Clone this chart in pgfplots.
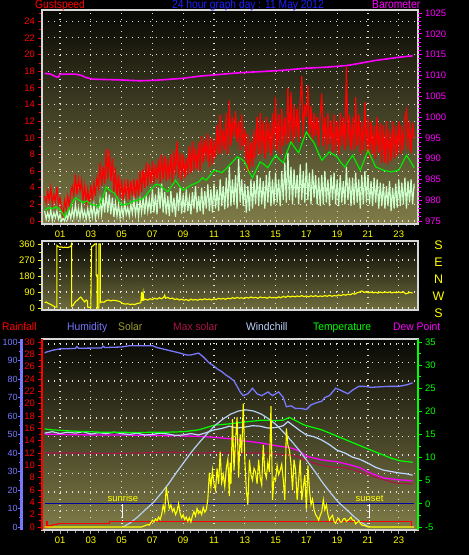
\documentclass[border=0pt]{standalone}
\usepackage{pgfplots}
\usepackage{pgfplotstable}
\pgfplotsset{compat=1.18}
\usepackage{fontspec}
\setmainfont{Liberation Sans}
\newfontfamily\narrowfont[FakeStretch=0.86]{Liberation Sans}
\newfontfamily\legfont[FakeStretch=0.94]{Liberation Sans}

\definecolor{gustred}{RGB}{255,0,0}
\definecolor{avggreen}{RGB}{0,235,0}
\definecolor{mint}{RGB}{204,255,204}
\definecolor{baro}{RGB}{255,0,255}
\definecolor{hum}{RGB}{120,120,255}
\definecolor{solarlab}{RGB}{160,160,48}
\definecolor{maxsol}{RGB}{170,20,70}
\definecolor{wchill}{RGB}{190,215,255}
\definecolor{tempg}{RGB}{0,255,0}
\definecolor{framec}{RGB}{215,215,215}
\definecolor{bgtop}{RGB}{8,8,4}
\definecolor{bgbot}{RGB}{128,124,72}
\definecolor{bgbotm}{RGB}{112,110,62}
\definecolor{navyl}{RGB}{0,0,160}
\definecolor{titleblue}{RGB}{30,30,255}
\definecolor{bell}{RGB}{180,210,240}
\definecolor{yel}{RGB}{255,255,0}

\pgfplotstableread[row sep=\\]{
t g w\\
0.0 3.0 1.2\\ 0.1 2.2 0.2\\ 0.2 3.5 1.0\\ 0.3 2.5 0.3\\ 0.4 4.0 1.3\\ 0.5 2.0 0.1\\ 0.6 3.2 1.0\\ 0.7 2.3 0.4\\ 0.8 4.1 1.2\\ 0.9 2.0 0.2\\
1.0 2.8 0.8\\ 1.1 1.5 0.0\\ 1.2 0.6 0.3\\ 1.3 2.5 0.0\\ 1.4 1.5 0.8\\ 1.5 3.0 0.2\\ 1.6 1.8 1.2\\ 1.7 3.5 0.3\\ 1.8 4.2 1.5\\ 1.9 3.0 0.4\\
2.0 5.6 2.0\\ 2.1 3.2 0.5\\ 2.2 5.0 1.5\\ 2.3 3.6 0.3\\ 2.4 4.8 1.8\\ 2.5 2.5 0.4\\ 2.6 4.2 1.2\\ 2.7 2.2 0.2\\ 2.8 3.8 1.5\\ 2.9 2.0 0.3\\
3.0 4.3 1.8\\ 3.1 2.5 0.5\\ 3.2 4.6 2.0\\ 3.3 3.0 0.3\\ 3.4 5.2 1.5\\ 3.5 4.0 0.6\\ 3.6 7.0 2.5\\ 3.7 4.2 0.8\\ 3.8 6.5 2.8\\ 3.9 4.5 1.0\\
4.0 8.7 3.5\\ 4.1 5.0 1.0\\ 4.2 8.5 3.2\\ 4.3 4.8 0.8\\ 4.4 7.5 2.8\\ 4.5 3.2 0.5\\ 4.6 6.5 2.2\\ 4.7 3.0 0.6\\ 4.8 5.5 2.0\\ 4.9 2.8 0.4\\
5.0 5.0 1.8\\ 5.1 2.5 0.5\\ 5.2 4.5 2.2\\ 5.3 3.0 0.8\\ 5.4 5.0 1.6\\ 5.5 2.6 0.6\\ 5.6 4.8 2.0\\ 5.7 3.0 0.9\\ 5.8 5.1 2.5\\ 5.9 2.8 0.8\\
6.0 5.0 2.2\\ 6.1 3.0 0.6\\ 6.2 6.0 2.5\\ 6.3 3.5 1.0\\ 6.4 6.2 2.8\\ 6.5 4.0 0.8\\ 6.6 7.0 3.0\\ 6.7 4.2 1.2\\ 6.8 6.8 2.6\\ 6.9 4.5 0.9\\
7.0 7.2 3.8\\ 7.1 4.5 1.0\\ 7.2 6.8 3.2\\ 7.3 5.0 0.8\\ 7.4 7.5 4.0\\ 7.5 4.6 1.5\\ 7.6 8.0 4.5\\ 7.7 5.0 1.0\\ 7.8 7.8 3.5\\ 7.9 4.8 0.8\\
8.0 7.5 3.0\\ 8.1 5.0 0.6\\ 8.2 8.0 3.6\\ 8.3 4.6 1.0\\ 8.4 8.5 2.8\\ 8.5 5.5 0.5\\ 8.6 9.6 3.4\\ 8.7 5.2 1.2\\ 8.8 8.2 4.0\\ 8.9 4.8 0.9\\
9.0 8.0 3.2\\ 9.1 5.2 1.0\\ 9.2 7.6 3.8\\ 9.3 5.5 1.2\\ 9.4 9.0 2.8\\ 9.5 5.8 0.8\\ 9.6 9.6 3.5\\ 9.7 6.0 1.5\\ 9.8 8.8 4.2\\ 9.9 6.2 1.0\\
10.0 9.5 3.0\\ 10.1 6.0 1.2\\ 10.2 10.2 4.0\\ 10.3 7.0 0.8\\ 10.4 9.8 3.6\\ 10.5 7.2 1.5\\ 10.6 10.5 4.4\\ 10.7 6.5 1.2\\ 10.8 10.0 3.8\\ 10.9 6.8 1.0\\
11.0 9.8 4.5\\ 11.1 7.5 1.5\\ 11.2 11.5 3.8\\ 11.3 8.0 1.2\\ 11.4 12.8 5.0\\ 11.5 8.2 1.8\\ 11.6 11.0 4.2\\ 11.7 8.5 1.4\\ 11.8 13.0 5.2\\ 11.9 8.0 1.6\\
12.0 14.5 6.5\\ 12.1 9.0 1.8\\ 12.2 12.5 5.0\\ 12.3 10.0 2.0\\ 12.4 13.2 5.5\\ 12.5 9.5 1.5\\ 12.6 12.0 7.5\\ 12.7 8.5 2.2\\ 12.8 12.8 5.0\\ 12.9 9.0 1.8\\
13.0 11.0 4.5\\ 13.1 6.0 1.0\\ 13.2 10.5 4.2\\ 13.3 5.8 1.2\\ 13.4 9.5 5.0\\ 13.5 6.5 1.5\\ 13.6 11.0 4.8\\ 13.7 7.5 2.0\\ 13.8 12.5 5.5\\ 13.9 8.0 1.8\\
14.0 13.0 5.2\\ 14.1 8.0 2.0\\ 14.2 12.0 4.8\\ 14.3 7.5 1.5\\ 14.4 12.5 5.5\\ 14.5 8.2 2.2\\ 14.6 11.8 6.0\\ 14.7 7.8 1.8\\ 14.8 13.0 5.0\\ 14.9 8.5 2.0\\
15.0 14.9 5.8\\ 15.1 8.5 2.2\\ 15.2 12.8 5.0\\ 15.3 8.0 1.8\\ 15.4 13.5 6.0\\ 15.5 9.0 2.5\\ 15.6 12.5 7.0\\ 15.7 9.2 2.2\\ 15.8 16.0 8.2\\ 15.9 9.5 2.5\\
16.0 15.5 6.5\\ 16.1 9.0 2.0\\ 16.2 14.0 6.2\\ 16.3 10.0 2.8\\ 16.4 13.5 5.5\\ 16.5 9.5 2.0\\ 16.6 14.5 6.8\\ 16.7 17.4 2.5\\ 16.8 10.0 6.0\\ 16.9 14.0 2.2\\
17.0 12.5 7.0\\ 17.1 16.3 2.5\\ 17.2 10.0 5.8\\ 17.3 13.8 2.0\\ 17.4 9.5 6.2\\ 17.5 13.0 2.8\\ 17.6 10.2 5.5\\ 17.7 12.5 2.0\\ 17.8 9.0 5.2\\ 17.9 12.8 1.8\\
18.0 15.3 5.5\\ 18.1 9.0 2.0\\ 18.2 12.5 6.0\\ 18.3 8.5 2.2\\ 18.4 13.0 5.0\\ 18.5 9.2 1.8\\ 18.6 12.0 5.5\\ 18.7 8.2 2.5\\ 18.8 12.8 5.8\\ 18.9 8.5 2.0\\
19.0 12.0 5.0\\ 19.1 8.0 1.8\\ 19.2 13.0 5.5\\ 19.3 9.0 2.2\\ 19.4 12.5 4.8\\ 19.5 8.5 2.0\\ 19.6 18.5 6.5\\ 19.7 9.0 2.5\\ 19.8 12.8 5.2\\ 19.9 8.5 1.8\\
20.0 12.5 5.2\\ 20.1 8.5 2.0\\ 20.2 14.9 5.8\\ 20.3 9.0 2.2\\ 20.4 12.8 5.0\\ 20.5 8.0 1.5\\ 20.6 12.0 5.5\\ 20.7 8.5 2.0\\ 20.8 14.3 6.0\\ 20.9 8.0 2.2\\
21.0 12.5 5.5\\ 21.1 7.5 2.0\\ 21.2 12.0 4.8\\ 21.3 8.0 1.8\\ 21.4 11.5 5.2\\ 21.5 7.5 2.2\\ 21.6 12.5 5.0\\ 21.7 8.2 1.5\\ 21.8 11.8 4.6\\ 21.9 7.0 1.8\\
22.0 11.5 4.5\\ 22.1 7.0 1.5\\ 22.2 12.0 4.2\\ 22.3 6.8 1.8\\ 22.4 11.0 4.8\\ 22.5 7.2 1.2\\ 22.6 12.0 4.0\\ 22.7 7.5 1.5\\ 22.8 11.5 4.5\\ 22.9 7.8 1.6\\
23.0 12.0 5.0\\ 23.1 8.0 1.8\\ 23.2 11.5 4.6\\ 23.3 8.5 2.0\\ 23.4 12.5 5.2\\ 23.5 13.3 1.5\\ 23.6 8.5 4.8\\ 23.7 12.0 2.2\\ 23.8 8.2 5.0\\ 23.9 11.8 2.0\\
24.0 10.0 4.5\\
}\gustwind

\pgfplotsset{
  panel/.style={scale only axis, width=376bp, anchor=south west,
    xmin=-0.17, xmax=24.25, clip=true},
  tickfont/.style={font=\fontsize{9.5}{10}\selectfont},
  dotgrid/.style={draw=white!88!black, line width=1.1bp, dash pattern=on 1.1bp off 4.9bp},
}

\begin{document}
\begin{tikzpicture}
\path[use as bounding box, fill=black] (0,0) rectangle (469bp,555bp);

% ================= TOP PANEL: gust / wind =================
\begin{axis}[panel, at={(42bp,331bp)}, height=214bp,
  ymin=-0.36, ymax=25.36,
  axis background/.style={shade, top color=bgtop, bottom color=bgbot},
  axis line style={draw=framec, line width=1.5bp},
  xtick={1,3,5,7,9,11,13,15,17,19,21,23},
  xticklabels={01,03,05,07,09,11,13,15,17,19,21,23},
  minor xtick={0,0.5,...,24},
  ytick={0,2,4,6,8,10,12,14,16,18,20,22,24},
  yticklabels={0,2,4,6,8,10,12,14,16,18,20,22,24},
  minor ytick={1,3,5,7,9,11,13,15,17,19,21,23,25},
  xtick pos=bottom, ytick pos=left, tick align=outside,
  major tick length=3.5bp, minor tick length=2.5bp,
  xtick style={draw=gray!70!white, line width=0.8bp},
  ytick style={draw=red, line width=0.8bp},
  xticklabel style={text=yel, tickfont},
  yticklabel style={text=gustred, tickfont},
  xmajorgrids, ymajorgrids, major grid style={dotgrid},
]
\addplot[gustred, line width=1.2bp] table[x=t, y=g] {\gustwind};
\addplot[mint, line width=1.2bp] table[x=t, y=w] {\gustwind};
\addplot[avggreen, line width=1.2bp] coordinates {
(0,1.3)(0.25,1.6)(0.5,1.5)(0.75,1.7)(1.0,1.4)(1.15,1.0)(1.3,0.5)(1.45,1.0)(1.6,1.5)(1.8,2.2)(2.0,2.8)(2.25,2.5)(2.5,2.2)(2.75,2.4)(3.0,2.0)(3.25,1.9)(3.5,1.7)(3.65,2.4)(3.8,3.0)(4.0,4.1)(4.15,3.8)(4.3,3.6)(4.5,3.4)(4.65,3.0)(4.8,2.5)(5.0,1.9)(5.25,2.0)(5.5,2.1)(5.75,2.4)(6.0,2.5)(6.25,2.6)(6.5,2.9)(6.75,3.5)(7.0,4.0)(7.25,4.4)(7.5,4.3)(7.65,4.0)(7.8,3.8)(8.0,3.5)(8.25,4.2)(8.5,4.9)(8.75,4.2)(9.0,3.7)(9.25,4.0)(9.5,4.3)(9.75,4.5)(10.0,4.7)(10.25,5.2)(10.5,4.9)(10.75,5.5)(11.0,6.1)(11.25,6.0)(11.5,5.8)(11.75,6.2)(12.0,6.7)(12.25,7.2)(12.5,7.7)(12.75,7.5)(13.0,7.1)(13.25,6.0)(13.5,5.2)(13.75,6.2)(14.0,7.1)(14.25,6.8)(14.5,6.4)(14.75,7.2)(15.0,7.9)(15.25,7.4)(15.5,7.0)(15.75,8.3)(16.0,9.5)(16.25,8.8)(16.5,8.2)(16.75,9.5)(17.0,10.7)(17.25,10.0)(17.5,9.4)(17.75,8.3)(18.0,7.3)(18.25,7.8)(18.5,8.3)(18.75,8.0)(19.0,7.7)(19.25,7.0)(19.5,6.5)(19.75,7.2)(20.0,7.9)(20.25,7.0)(20.5,6.1)(20.75,7.3)(21.0,8.5)(21.25,7.5)(21.5,6.5)(21.75,6.3)(22.0,6.1)(22.25,6.0)(22.5,5.9)(22.75,6.0)(23.0,6.1)(23.25,7.0)(23.5,7.9)(23.75,7.2)(24.0,6.4)};
\end{axis}

% barometer scale
\begin{axis}[panel, at={(42bp,331bp)}, height=214bp,
  ymin=974.28, ymax=1025.72,
  axis y line*=right, axis x line=none, y axis line style={draw=none},
  ytick={975,980,985,990,995,1000,1005,1010,1015,1020,1025},
  yticklabels={975,980,985,990,995,1000,1005,1010,1015,1020,1025},
  minor y tick num=4, tick align=outside,
  major tick length=3.5bp, minor tick length=2.5bp,
  ytick style={draw=baro, line width=0.8bp},
  yticklabel style={text=baro, tickfont},
]
\addplot[baro, line width=1.6bp] coordinates {
(0,1010.5)(0.4,1010.3)(0.6,1009.9)(0.8,1009.6)(0.9,1009.6)(1.0,1010.3)(2.0,1010.3)(2.4,1010.0)(2.6,1009.6)(3.1,1009.1)(4.0,1009.0)(5.0,1008.9)(6.2,1008.7)(7.0,1008.8)(7.9,1009.0)(9.0,1009.3)(10.0,1009.8)(11.0,1010.1)(12.2,1010.5)(13.0,1010.7)(14.0,1010.9)(15.4,1011.2)(16.9,1011.7)(18.4,1012.0)(19.7,1012.4)(20.6,1013.0)(21.5,1013.6)(22.3,1014.0)(23.1,1014.4)(23.9,1014.7)};
\end{axis}

% ================= MIDDLE PANEL: wind direction =================
\begin{axis}[panel, at={(42bp,245bp)}, height=69bp,
  ymin=-11, ymax=377,
  axis background/.style={shade, top color=bgtop, bottom color=bgbotm},
  axis line style={draw=framec, line width=1.5bp},
  xtick={1,3,5,7,9,11,13,15,17,19,21,23}, xticklabels={},
  xtick style={draw=none},
  ytick={0,90,180,270,360}, yticklabels={0,90,180,270,360},
  minor ytick={45,135,225,315},
  ytick pos=left, tick align=outside,
  major tick length=3.5bp, minor tick length=2.5bp,
  ytick style={draw=yel, line width=0.8bp},
  yticklabel style={text=yel, tickfont},
  xmajorgrids, ymajorgrids, major grid style={dotgrid},
]
\addplot[yel, line width=1.1bp] coordinates {
(0.0,30)(0.1,34)(0.2,28)(0.3,24)(0.4,20)(0.5,15)(0.6,10)(0.7,5)(0.8,5)(0.8,352)(0.9,345)(1.0,342)(1.1,344)(1.2,340)(1.3,342)(1.4,341)(1.5,340)(1.6,343)(1.7,346)(1.75,360)(1.75,10)(1.85,15)(1.95,30)(2.05,40)(2.15,45)(2.25,55)(2.35,62)(2.45,50)(2.55,40)(2.6,34)(2.7,45)(2.78,40)(2.8,5)(3.0,3)(3.05,345)(3.15,350)(3.25,360)(3.35,360)(3.35,186)(3.42,186)(3.42,0)(3.52,0)(3.52,360)(3.62,360)(3.62,30)(3.75,35)(3.85,32)(4.0,42)(4.15,45)(4.3,40)(4.45,44)(4.6,42)(4.75,40)(4.9,36)(5.0,30)(5.1,25)(5.25,22)(5.4,24)(5.55,20)(5.7,22)(5.85,20)(6.0,25)(6.15,28)(6.25,30)(6.3,90)(6.35,40)(6.4,85)(6.45,45)(6.55,50)(6.7,45)(6.85,52)(7.0,48)(7.15,55)(7.3,50)(7.45,58)(7.6,52)(7.75,62)(7.8,72)(7.85,55)(8.0,60)(8.15,52)(8.3,56)(8.45,48)(8.6,52)(8.75,45)(8.9,50)(9.05,44)(9.2,48)(9.35,42)(9.5,50)(9.65,45)(9.8,48)(9.95,44)(10.1,50)(10.25,46)(10.4,52)(10.55,47)(10.7,51)(10.85,45)(11.0,52)(11.15,48)(11.3,55)(11.45,50)(11.6,54)(11.75,49)(11.9,56)(12.05,52)(12.2,58)(12.35,54)(12.5,60)(12.65,55)(12.8,58)(12.95,53)(13.1,60)(13.25,56)(13.4,62)(13.55,57)(13.7,60)(13.85,55)(14.0,62)(14.15,58)(14.3,60)(14.45,55)(14.6,62)(14.75,57)(14.9,60)(15.05,56)(15.2,63)(15.35,58)(15.5,66)(15.65,60)(15.8,68)(15.95,62)(16.1,67)(16.25,63)(16.4,68)(16.55,64)(16.7,70)(16.85,64)(17.0,68)(17.15,63)(17.3,69)(17.45,65)(17.6,70)(17.75,64)(17.9,68)(18.05,65)(18.2,70)(18.35,66)(18.5,72)(18.65,66)(18.8,70)(18.95,68)(19.1,74)(19.25,70)(19.4,76)(19.55,72)(19.7,78)(19.85,74)(20.0,82)(20.15,78)(20.3,86)(20.45,90)(20.6,96)(20.75,88)(20.9,92)(21.05,86)(21.2,90)(21.35,85)(21.5,89)(21.65,84)(21.8,90)(21.95,86)(22.1,91)(22.25,87)(22.4,90)(22.55,85)(22.7,89)(22.85,86)(23.0,90)(23.15,87)(23.3,91)(23.45,80)(23.6,84)(23.75,88)(23.9,84)};
\end{axis}

% ================= BOTTOM PANEL =================
% humidity (frame, background, grid)
\begin{axis}[panel, at={(42bp,25bp)}, height=191bp,
  ymin=-1.62, ymax=101.62,
  axis background/.style={shade, top color=bgtop, bottom color=bgbot},
  axis line style={draw=framec, line width=1.5bp},
  xtick={1,3,5,7,9,11,13,15,17,19,21,23},
  xticklabels={01,03,05,07,09,11,13,15,17,19,21,23},
  minor xtick={0,0.5,...,24},
  ytick={8.9,18.9,28.9,38.9,48.9,58.9,68.9,78.9,88.9,98.9}, yticklabels={},
  ytick style={draw=none},
  xtick pos=bottom, tick align=outside,
  major tick length=3.5bp, minor tick length=2.5bp,
  xtick style={draw=gray!70!white, line width=0.8bp},
  xticklabel style={text=yel, tickfont},
  xmajorgrids, ymajorgrids, major grid style={dotgrid},
]
\addplot[hum, line width=1.3bp] coordinates {
(0,94)(0.1,94.5)(0.5,95.5)(1.0,96.3)(2.0,96.5)(2.1,97.5)(2.2,96.6)(3.7,96.8)(3.8,97.8)(3.9,97.0)(5.0,97.3)(5.5,98.0)(7.0,98.0)(7.3,97.0)(7.8,96.0)(8.3,95.0)(8.8,94.0)(9.2,93.0)(9.5,93.0)(10.0,94.0)(10.3,92.0)(10.7,88.6)(11.0,87.0)(11.2,85.5)(11.5,84)(11.8,82)(12.0,81)(12.3,79)(12.5,76)(12.7,73)(12.9,71)(13.2,72)(13.5,75)(13.8,72)(14.1,71)(14.5,73)(14.8,71)(15.2,73)(15.5,70)(15.7,65)(16.0,65.5)(16.3,64)(16.7,64)(17.0,63.5)(17.3,66)(17.6,67)(18.0,68)(18.2,70)(18.5,71)(18.9,75)(19.2,74)(19.7,72)(20.0,74)(20.4,76)(20.8,76)(21.2,75.5)(22.3,76)(23.0,76)(23.6,77)(23.9,78)};
\end{axis}

% temperature scale
\begin{axis}[panel, at={(42bp,25bp)}, height=191bp,
  ymin=-5.65, ymax=35.65,
  axis y line*=right, axis x line=none,
  y axis line style={draw=tempg, line width=1.2bp},
  ytick={-5,0,5,10,15,20,25,30,35}, yticklabels={-5,0,5,10,15,20,25,30,35},
  minor y tick num=1, tick align=outside,
  major tick length=3.5bp, minor tick length=2.5bp,
  ytick style={draw=tempg, line width=0.8bp},
  yticklabel style={text=tempg, tickfont},
]
\addplot[navyl, line width=1.2bp] coordinates {(0,0)(24,0)};
\addplot[maxsol, line width=1.1bp] coordinates {
(0,11.0)(2,11.0)(4,10.9)(6,11.0)(8,11.2)(9,11.1)(10,11.0)(11,11.1)(12,11.0)(13,11.0)(14.1,11.0)(15,10.8)(15.8,10.6)(16.4,10.3)(16.9,9.5)(17.7,8.6)(18.5,8.0)(19.6,7.8)(20.7,6.7)(21.8,5.4)(22.8,4.5)(23.9,4.3)};
\addplot[baro, line width=1.3bp] coordinates {
(0,15.1)(1,15.0)(3,14.9)(5,14.9)(7,14.8)(9,14.7)(10,14.6)(11,14.4)(12,14.1)(13,13.6)(14,13.2)(15,12.6)(16,12.1)(16.5,11.5)(17,10.3)(18,9.5)(19,9.1)(20,8.3)(20.5,7.8)(21,6.9)(22,5.6)(23,5.2)(23.9,5.0)};
\addplot[wchill, line width=1.2bp] coordinates {
(0,15.3)(0.5,15.6)(1,15.2)(1.5,15.5)(2,15.3)(2.5,15.6)(3,15.1)(3.5,15.4)(4,15.2)(4.5,15.5)(5,15.2)(5.5,15.0)(6,15.3)(6.5,14.9)(7,15.0)(7.5,15.3)(8,15.1)(8.5,14.8)(9,14.9)(9.5,15.2)(10,14.9)(10.5,15.4)(11,16.0)(11.5,16.3)(12,16.8)(12.5,16.4)(13,16.6)(13.5,16.9)(14,16.8)(14.5,16.4)(15,16.5)(15.5,16.9)(15.8,17.8)(16.2,16.8)(16.6,15.8)(17,14.9)(17.5,14.5)(18,13.8)(18.5,12.8)(19,11.6)(19.5,11.0)(20,10.1)(20.5,9.6)(21,8.8)(21.5,7.9)(22,7.3)(22.5,7.0)(23,6.7)(23.5,6.5)(23.9,6.2)};
\addplot[tempg, line width=1.2bp] coordinates {
(0,16.2)(0.5,16.0)(1,15.9)(2,15.7)(3,15.6)(3.6,15.5)(5,15.5)(6,15.4)(7,15.5)(8,15.5)(9,15.6)(10,16.0)(10.5,16.5)(11,17.0)(12,17.3)(12.5,17.5)(13,17.7)(14.1,18.1)(15,18.0)(15.5,18.1)(15.9,18.7)(16.3,18.0)(16.9,17.0)(18,16.0)(19.1,14.5)(20.4,12.7)(21.5,11.2)(22.5,9.9)(23.1,9.3)(23.9,9.0)};
\addplot[white, line width=1bp] coordinates {(5.09,0)(5.09,-2.8)};
\addplot[white, line width=1bp, dotted] coordinates {(5.09,-2.8)(5.09,-5)};
\addplot[white, line width=1bp] coordinates {(21.07,0)(21.07,-2.8)};
\addplot[white, line width=1bp, dotted] coordinates {(21.07,-2.8)(21.07,-5)};
\node[text=yel, inner sep=0, font=\fontsize{9.5}{10}\selectfont] at (axis cs:5.09,1.2) {sunrise};
\node[text=yel, inner sep=0, font=\fontsize{9.5}{10}\selectfont] at (axis cs:21.1,1.2) {sunset};
\end{axis}

% rainfall scale, solar
\begin{axis}[panel, at={(42bp,25bp)}, height=191bp,
  ymin=-0.49, ymax=30.49,
  axis y line*=left, axis x line=none,
  y axis line style={draw=red, line width=1.2bp},
  ytick={0,2,4,6,8,10,12,14,16,18,20,22,24,26,28,30},
  yticklabels={0,2,4,6,8,10,12,14,16,18,20,22,24,26,28,30},
  minor ytick={1,3,5,7,9,11,13,15,17,19,21,23,25,27,29},
  tick align=outside,
  major tick length=3.5bp, minor tick length=2.5bp,
  ytick style={draw=red, line width=0.8bp},
  yticklabel style={text=gustred, tickfont},
]
\addplot[bell, line width=1.2bp] coordinates {
(5.09,0)(5.58,0.7)(6.08,1.7)(6.58,2.9)(7.08,4.0)(7.58,5.5)(8.08,7.1)(8.58,8.9)(9.08,10.6)(9.58,12.3)(10.08,13.8)(10.58,15.2)(11.08,16.5)(11.58,17.5)(12.08,18.3)(12.58,18.8)(13.08,19.0)(13.58,18.8)(14.08,18.3)(14.58,17.5)(15.08,16.5)(15.58,15.2)(16.08,13.8)(16.58,12.3)(17.08,10.6)(17.58,8.9)(18.08,7.1)(18.58,5.5)(19.08,4.0)(19.58,2.9)(20.08,1.7)(20.58,0.7)(21.07,0)};
\addplot[gustred, line width=1.2bp] coordinates {
(0,0)(0.15,0)(0.15,0.9)(0.2,0.9)(0.2,0.15)(0.5,0.15)(0.5,0.35)(0.85,0.35)(0.85,0.6)(4.2,0.6)(4.2,0.85)(23.85,0.85)(23.85,0)};
\addplot[yel, line width=1.1bp] coordinates {
(0,0)(6.3,0)(6.5,0.2)(6.7,0.4)(6.8,0.3)(6.9,0.7)(7.0,1.1)(7.1,0.8)(7.2,1.3)(7.3,1.0)(7.4,1.6)(7.5,1.2)(7.6,2.0)(7.7,3.5)(7.8,2.5)(7.9,6.5)(8.0,4.5)(8.1,3.0)(8.2,3.6)(8.3,2.5)(8.4,3.0)(8.5,2.0)(8.6,2.6)(8.7,3.8)(8.8,2.2)(8.9,1.5)(9.0,2.0)(9.1,1.2)(9.2,1.6)(9.3,0.9)(9.4,1.5)(9.5,0.8)(9.6,1.8)(9.7,2.5)(9.8,1.8)(9.9,3.0)(10.0,2.2)(10.1,2.6)(10.2,2.0)(10.3,3.2)(10.4,2.4)(10.5,2.8)(10.6,4.5)(10.7,8.8)(10.8,6.5)(10.9,9.2)(11.0,7.0)(11.1,6.0)(11.2,9.5)(11.3,7.0)(11.4,12.2)(11.5,7.2)(11.6,8.5)(11.7,6.5)(11.8,9.5)(11.9,11.0)(12.0,5.0)(12.05,10.4)(12.1,7.0)(12.2,17.5)(12.3,9.2)(12.4,14.0)(12.5,17.8)(12.6,8.0)(12.7,15.0)(12.8,12.0)(12.9,20.0)(13.0,11.0)(13.1,6.0)(13.2,3.6)(13.3,10.9)(13.4,8.5)(13.5,7.6)(13.6,9.5)(13.7,8.9)(13.8,7.0)(13.9,10.9)(14.0,8.0)(14.1,6.8)(14.2,13.3)(14.3,9.0)(14.4,8.0)(14.5,10.5)(14.6,8.9)(14.7,19.6)(14.8,4.4)(14.9,8.0)(15.0,7.6)(15.1,10.0)(15.2,8.5)(15.3,9.2)(15.4,10.2)(15.5,7.6)(15.6,4.4)(15.7,16.0)(15.8,13.3)(15.9,12.5)(16.0,10.2)(16.1,6.0)(16.2,10.9)(16.3,9.2)(16.4,4.4)(16.5,7.6)(16.6,10.9)(16.7,4.4)(16.8,6.5)(16.9,8.4)(17.0,2.8)(17.1,10.0)(17.2,6.0)(17.3,3.6)(17.4,4.5)(17.5,2.8)(17.6,2.0)(17.7,1.6)(17.8,1.1)(17.9,1.9)(18.0,2.5)(18.1,4.4)(18.2,2.8)(18.3,3.6)(18.4,2.0)(18.5,1.1)(18.6,1.6)(18.7,1.9)(18.8,0.9)(18.9,0.6)(19.0,1.2)(19.1,1.4)(19.2,0.8)(19.3,0.8)(19.4,1.3)(19.5,1.4)(19.6,0.9)(19.7,1.1)(19.8,1.3)(19.9,1.6)(20.0,1.1)(20.1,1.1)(20.2,0.5)(20.4,1.0)(20.5,0.6)(20.6,0.3)(20.8,0.2)(21.0,0)(24,0)};
\end{axis}

% humidity scale (blue, far left)
\begin{axis}[scale only axis, anchor=south west, at={(21.5bp,25bp)}, width=1bp, height=191bp,
  xmin=0, xmax=1, ymin=-1.62, ymax=101.62,
  axis y line*=left, axis x line=none,
  y axis line style={draw=hum, line width=2bp},
  ytick={0,10,20,30,40,50,60,70,80,90,100},
  yticklabels={0,10,20,30,40,50,60,70,80,90,100},
  minor ytick={5,15,25,35,45,55,65,75,85,95},
  tick align=outside,
  major tick length=3bp, minor tick length=2bp,
  ytick style={draw=hum, line width=0.8bp},
  yticklabel style={text=hum, font=\fontsize{9}{10}\selectfont, inner sep=0.8bp},
]
\addplot[draw=none] coordinates {(0,0)};
\end{axis}

% ================= TEXTS =================
\node[anchor=base west, inner sep=0, text=gustred, font=\narrowfont\fontsize{12}{14}\selectfont] at (35bp,546.5bp) {Gustspeed};
\node[anchor=base west, inner sep=0, text=titleblue, font=\narrowfont\fontsize{12}{14}\selectfont] at (172bp,546.5bp) {24 hour graph day : 11 May 2012};
\node[anchor=base west, inner sep=0, text=baro, font=\narrowfont\fontsize{12}{14}\selectfont] at (372bp,546.5bp) {Barometer};

\foreach \yy/\ll in {310/S,293/E,276/N,259/W,242/S}
  \node[text=yel, inner sep=0, font=\fontsize{12.5}{13}\selectfont] at (438.5bp,\yy bp) {\ll};

\node[anchor=base west, inner sep=0, text=gustred, font=\legfont\fontsize{11}{13}\selectfont] at (2bp,224.5bp) {Rainfall};
\node[anchor=base west, inner sep=0, text=hum, font=\legfont\fontsize{11}{13}\selectfont] at (67bp,224.5bp) {Humidity};
\node[anchor=base west, inner sep=0, text=solarlab, font=\legfont\fontsize{11}{13}\selectfont] at (118bp,224.5bp) {Solar};
\node[anchor=base west, inner sep=0, text=maxsol, font=\legfont\fontsize{11}{13}\selectfont] at (173bp,224.5bp) {Max solar};
\node[anchor=base west, inner sep=0, text=wchill, font=\legfont\fontsize{11}{13}\selectfont] at (246bp,224.5bp) {Windchill};
\node[anchor=base west, inner sep=0, text=tempg, font=\legfont\fontsize{11}{13}\selectfont] at (313bp,224.5bp) {Temperature};
\node[anchor=base west, inner sep=0, text=baro, font=\legfont\fontsize{11}{13}\selectfont] at (393bp,224.5bp) {Dew Point};
\end{tikzpicture}
\end{document}
